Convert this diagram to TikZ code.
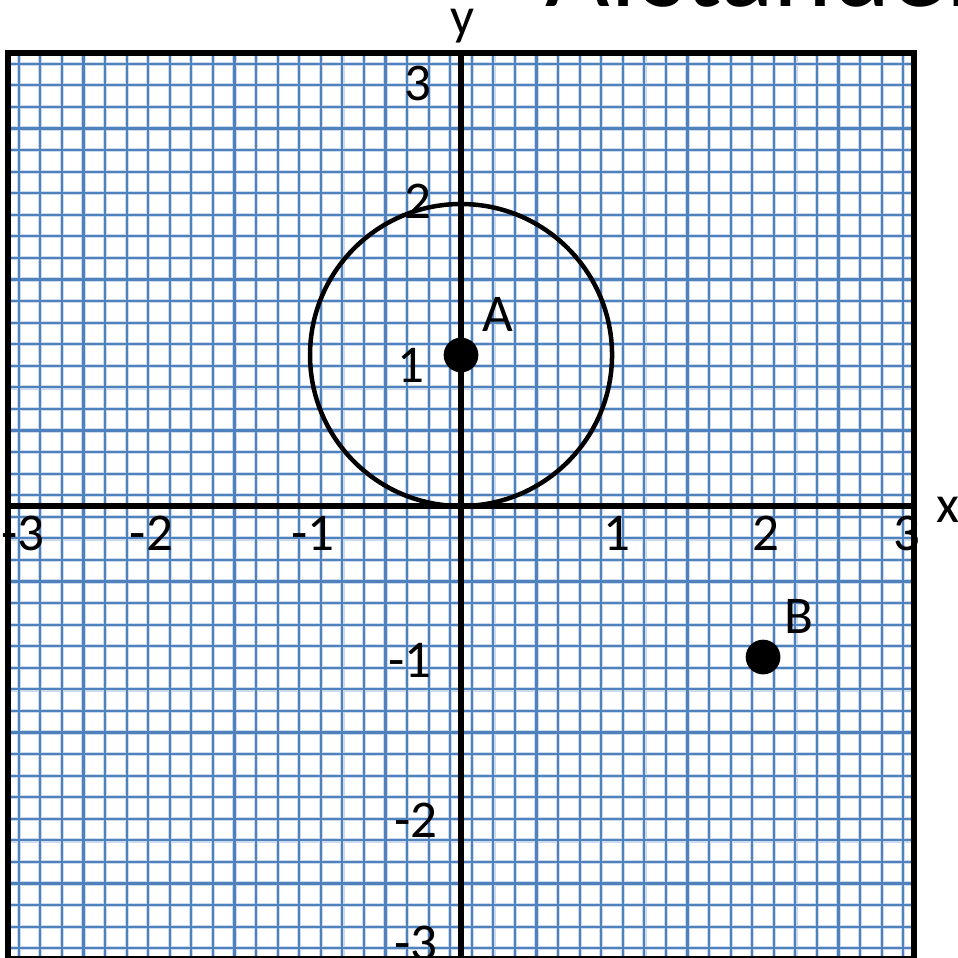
\documentclass[tikz,border=0pt]{standalone}
\usepackage{fontspec}
\setmainfont{Carlito}
\usepackage{xcolor}
\definecolor{gridblue}{HTML}{4F81BD}
\definecolor{gridhalo}{HTML}{CCDAEE}
\usetikzlibrary{positioning}
\tikzset{
  gridglow/.style ={draw=gridhalo,line width=0.8pt},
  gridline/.style ={draw=gridblue,line width=0.4pt},
  axisline/.style ={draw=black,line width=1.1pt},
  frameline/.style={draw=black,line width=1.1pt},
  ring/.style     ={draw=black,line width=0.85pt},
  dot/.style      ={circle,fill=black,inner sep=0pt,minimum size=2.3mm},
  lbl/.style      ={font=\fontsize{10}{12}\selectfont,inner sep=0pt},
  ttl/.style      ={font=\fontsize{21}{25}\selectfont,inner sep=0pt},
}

\begin{document}
\begin{tikzpicture}[x=1cm,y=1cm]
\useasboundingbox (-3.053,-2.993) rectangle (3.285,3.351);
\clip (-3.053,-2.993) rectangle (3.285,3.351);

% title (cut off by the page edge)
\node[ttl,anchor=base west] (title) at (0.55,3.31) {Afstanden};

% squared paper, 7 lines per unit
\foreach \k in {0,...,41}
 {\pgfmathsetmacro\g{-3+(\k+0.5)/7}
  \draw[gridglow] (\g,-3) -- (\g,3);
  \draw[gridglow] (-3,\g) -- (3,\g);}
\foreach \k in {0,...,41}
 {\pgfmathsetmacro\g{-3+(\k+0.5)/7}
  \draw[gridline] (\g,-3) -- (\g,3);
  \draw[gridline] (-3,\g) -- (3,\g);}

%================= tick labels
\foreach \v/\px in {-3/-2.90, -2/-2.05, -1/-0.98, 1/1.03, 2/2.02, 3/2.95}
  \node[lbl] (xt\v) at (\px,-0.18) {\v};
\foreach \v/\px/\py in {3/-0.285/2.80, 2/-0.285/2.02, 1/-0.33/0.93,
                        -1/-0.34/-1.02, -2/-0.30/-2.08, -3/-0.30/-2.90}
  \node[lbl] (yt\v) at (\px,\py) {\v};

%================= axes and frame
\coordinate (xl) at (-3,0);
\coordinate (xr) at (3,0);
\coordinate (yb) at (0,-3);
\coordinate (yt) at (0,3);
\draw[axisline] (xl) -- (xr);
\draw[axisline] (yb) -- (yt);
\draw[frameline] (-3,-3) rectangle (3,3);
\node[lbl,anchor=base] (xname) at (3.225,-0.11) {x};
\node[lbl,anchor=base] (yname) at (0.01,3.12) {y};

%================= circle round A, points A and B
\node[dot] (ptA) at (0,1) {};
\node[dot] (ptB) at (2,-1) {};
\draw[ring] (ptA.center) circle[radius=1];
\node[lbl,above right=0.06 and 0.05 of ptA] (lblA) {A};
\node[lbl,above right=0.06 and 0.05 of ptB] (lblB) {B};
\end{tikzpicture}
\end{document}
